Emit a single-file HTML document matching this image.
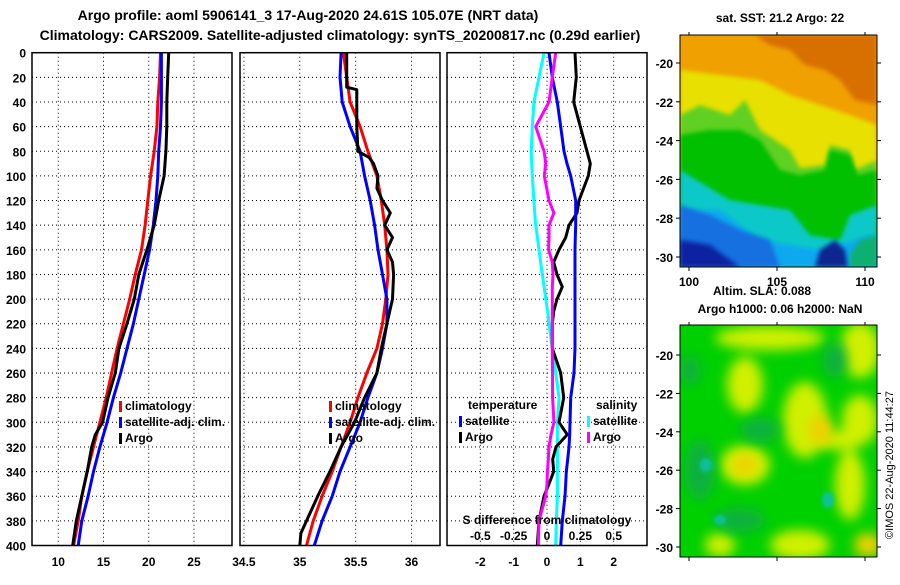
<!DOCTYPE html>
<html><head><meta charset="utf-8">
<style>
body{margin:0;background:#fff;width:900px;height:580px;overflow:hidden}
svg text{font-family:"Liberation Sans",sans-serif;font-weight:bold;fill:#000}
</style></head>
<body>
<svg id="c" width="900" height="580" xmlns="http://www.w3.org/2000/svg">
<defs>
<filter id="bl" x="-20%" y="-20%" width="140%" height="140%"><feGaussianBlur stdDeviation="6"/></filter>
<filter id="bl2" x="-20%" y="-20%" width="140%" height="140%"><feGaussianBlur stdDeviation="2"/></filter>
<clipPath id="m1"><rect x="680" y="35" width="197" height="232"/></clipPath>
<clipPath id="m2"><rect x="680" y="325" width="197" height="232"/></clipPath>
</defs>
<text x="308" y="20" font-size="14" text-anchor="middle">Argo profile: aoml 5906141_3 17-Aug-2020 24.61S 105.07E (NRT data)</text>
<text x="340" y="40" font-size="14" text-anchor="middle">Climatology: CARS2009. Satellite-adjusted climatology: synTS_20200817.nc (0.29d earlier)</text>
<g id="panels"></g>
<g id="maps">
<text x="780" y="22" font-size="12" text-anchor="middle">sat. SST: 21.2 Argo: 22</text>
<g clip-path="url(#m1)">
<rect x="680" y="35" width="197" height="232" fill="#f0a000"/>
<path d="M755 35 L877 35 L877 105 L855 100 L840 80 L825 70 L805 65 L790 50 L770 45 Z" fill="#d87000" filter="url(#bl2)"/>
<path d="M680 70 L720 75 L760 80 L790 95 L820 105 L850 115 L877 125 L877 267 L680 267 Z" fill="#e8e000" filter="url(#bl2)"/>
<path d="M680 115 L700 105 L730 115 L745 100 L760 130 L790 150 L800 168 L825 165 L830 145 L850 150 L855 170 L877 160 L877 267 L680 267 Z" fill="#60d020" filter="url(#bl2)"/>
<path d="M680 135 L710 130 L740 130 L760 140 L780 170 L800 175 L825 170 L830 150 L850 155 L858 175 L877 170 L877 267 L680 267 Z" fill="#00c000" filter="url(#bl2)"/>
<path d="M680 170 L705 185 L730 200 L760 205 L790 210 L810 235 L840 240 L850 215 L877 205 L877 267 L680 267 Z" fill="#10c8c8" filter="url(#bl2)"/>
<path d="M680 210 L720 210 L740 225 L760 240 L790 245 L820 250 L840 245 L870 235 L877 240 L877 267 L680 267 Z" fill="#10a8f0" filter="url(#bl2)"/>
<path d="M680 205 L710 215 L740 230 L770 240 L780 267 L680 267 Z" fill="#1870e0" filter="url(#bl2)"/>
<path d="M680 240 L710 245 L730 260 L740 267 L680 267 Z" fill="#0820a0" filter="url(#bl2)"/>
<path d="M815 267 L820 250 L835 240 L845 250 L848 267 Z" fill="#082890" filter="url(#bl2)"/>
<path d="M850 255 L860 240 L877 235 L877 267 L850 267 Z" fill="#10b070" filter="url(#bl2)"/>
</g>
<rect x="680" y="35" width="197" height="232" fill="none" stroke="#000"/>
<text x="762" y="295" font-size="12" text-anchor="middle">Altim. SLA: 0.088</text>
<text x="780" y="313" font-size="12" text-anchor="middle">Argo h1000: 0.06 h2000: NaN</text>
<g clip-path="url(#m2)">
<rect x="680" y="325" width="197" height="232" fill="#00d000"/>
<g filter="url(#bl)" fill="#d0f000">
<ellipse cx="770" cy="338" rx="55" ry="12"/>
<ellipse cx="860" cy="350" rx="20" ry="28"/>
<ellipse cx="745" cy="385" rx="18" ry="28"/>
<ellipse cx="805" cy="420" rx="22" ry="38"/>
<ellipse cx="745" cy="465" rx="25" ry="20"/>
<ellipse cx="860" cy="420" rx="18" ry="25"/>
<ellipse cx="850" cy="485" rx="15" ry="35"/>
<ellipse cx="800" cy="545" rx="30" ry="15"/>
<ellipse cx="720" cy="545" rx="15" ry="12"/>
<ellipse cx="840" cy="440" rx="25" ry="10"/>
</g>
<g filter="url(#bl)" fill="#f0d000">
<ellipse cx="745" cy="465" rx="12" ry="10"/>
<ellipse cx="820" cy="430" rx="12" ry="15"/>
<ellipse cx="868" cy="545" rx="14" ry="12"/>
</g>
<g filter="url(#bl)" fill="#10b040">
<ellipse cx="700" cy="470" rx="15" ry="30"/>
<ellipse cx="760" cy="430" rx="20" ry="12"/>
<ellipse cx="835" cy="360" rx="12" ry="18"/>
<ellipse cx="740" cy="520" rx="25" ry="12"/>
<ellipse cx="690" cy="370" rx="10" ry="15"/>
</g>
<g filter="url(#bl2)" fill="#10c0a0">
<ellipse cx="706" cy="465" rx="6" ry="7"/>
<ellipse cx="828" cy="500" rx="6" ry="8"/>
<ellipse cx="720" cy="520" rx="6" ry="5"/>
</g>
</g>
<rect x="680" y="325" width="197" height="232" fill="none" stroke="#000"/>
<text transform="translate(893,465) rotate(-90)" font-size="11" text-anchor="middle" style="font-weight:normal">©IMOS 22-Aug-2020 11:44:27</text>
</g>
</svg>
<script>
// ---- data ----
const depths = [0,20,40,60,80,100,120,140,160,180,200,220,240,260,280,300,320,340,360,380,400];
const tempClim = [21.3,21.2,21.0,20.9,20.6,20.2,19.9,19.6,19.2,18.5,17.9,17.2,16.5,15.9,15.3,14.6,13.9,13.2,12.6,12.2,11.7];
const tempSat  = [21.4,21.4,21.4,21.3,21.1,21.0,20.8,20.5,20.1,19.5,18.9,18.3,17.6,16.9,16.1,15.4,14.6,13.9,13.3,12.6,12.2];
const argoDepths = [0,20,40,60,80,100,110,120,140,160,180,200,220,240,260,280,300,310,320,340,360,380,400];
const tempArgo = [22.2,22.1,22.0,22.0,21.9,21.7,21.4,21.1,20.6,19.8,18.9,18.4,17.6,16.7,16.3,15.5,14.9,14.1,13.7,13.2,12.6,12.0,11.6];
const salClim = [35.39,35.42,35.45,35.54,35.61,35.69,35.73,35.76,35.78,35.79,35.77,35.74,35.69,35.60,35.52,35.45,35.37,35.29,35.20,35.12,35.06];
const salSat  = [35.37,35.36,35.38,35.45,35.54,35.58,35.63,35.67,35.70,35.74,35.78,35.78,35.74,35.69,35.61,35.54,35.45,35.36,35.29,35.20,35.13];
const salArgoDepths = [0,28,30,60,80,85,90,100,110,120,130,140,150,160,170,180,200,220,240,260,280,300,320,340,360,380,390,400];
const salArgo = [35.42,35.42,35.51,35.51,35.52,35.62,35.66,35.70,35.69,35.74,35.81,35.76,35.83,35.78,35.83,35.84,35.83,35.78,35.73,35.69,35.58,35.49,35.37,35.27,35.16,35.06,35.01,35.00];
const dDepths = [0,20,40,60,80,90,100,120,130,140,150,160,170,180,190,200,210,220,240,260,280,300,310,320,330,340,350,360,380,400];
const dTempArgo = [0.84,0.88,0.8,1.0,1.2,1.3,1.24,0.96,0.9,0.66,0.56,0.36,0.2,0.3,0.46,0.3,0.2,0.16,0.16,0.41,0.5,0.36,0.61,0.27,0.17,0.2,0.06,-0.09,-0.24,-0.29];
const dTempSat = [0.06,0.16,0.31,0.41,0.51,0.6,0.71,0.86,0.86,0.86,0.85,0.84,0.84,0.84,0.84,0.84,0.84,0.84,0.84,0.81,0.71,0.69,0.68,0.66,0.62,0.58,0.56,0.54,0.46,0.41];
const dSalSat = [-0.022,-0.06,-0.098,-0.11,-0.118,-0.115,-0.11,-0.098,-0.092,-0.085,-0.072,-0.06,-0.048,-0.035,-0.022,-0.01,0.005,0.015,0.04,0.065,0.09,0.078,0.078,0.078,0.078,0.078,0.078,0.078,0.07,0.065];
const dSalArgo = [0.065,0.04,0.015,-0.085,-0.022,-0.01,-0.02,0.015,0.052,0.015,0.015,0.012,0.04,0.045,0.04,0.04,0.04,0.04,0.04,0.041,0.042,0.052,0.03,0.015,0.01,0.003,0.0,-0.01,-0.06,-0.065];
const depthTicks = [0,20,40,60,80,100,120,140,160,180,200,220,240,260,280,300,320,340,360,380,400];
const tTicks = [10,15,20,25], sTicks=[34.5,35,35.5,36], dTicks=[-2,-1,0,1,2], sdTicks=[-0.5,-0.25,0,0.25,0.5];
const latTicks = [-20,-22,-24,-26,-28,-30], lonTicks=[100,105,110];

const NS='http://www.w3.org/2000/svg';
const root=document.getElementById('panels');
function el(tag,attrs,parent){const e=document.createElementNS(NS,tag);for(const k in attrs)e.setAttribute(k,attrs[k]);(parent||root).appendChild(e);return e;}
const Y0=52.7,YS=1.232;
const yS=d=>Y0+YS*d;
const P=[{x0:32,x1:232,v0:7.1,v1:29.2},{x0:240,x1:440,v0:34.465,v1:36.255},{x0:447,x1:647,v0:-3.0,v1:3.0}];
function xs(p,v){return p.x0+(v-p.v0)/(p.v1-p.v0)*(p.x1-p.x0);}
function grid(p,ticks,name){
  const g=el('g',{});
  
  
  depthTicks.forEach(d=>{el('line',{x1:p.x0,x2:p.x1,y1:yS(d),y2:yS(d),stroke:'#000','stroke-dasharray':'1,3'},g);});
  ticks.forEach(t=>{const x=xs(p,t);el('line',{x1:x,x2:x,y1:yS(0),y2:yS(400),stroke:'#000','stroke-dasharray':'1,3'},g);});
}
function frame(p,name){const r=el('rect',{x:p.x0,y:yS(0),width:p.x1-p.x0,height:yS(400)-yS(0),fill:'none',stroke:'#000','stroke-width':1.5});
  
  }
function line(p,ds,vs,col,name,scale){
  const pts=ds.map((d,i)=>xs(p,vs[i]*(scale||1)).toFixed(1)+','+yS(d).toFixed(1)).join(' ');
  const l=el('polyline',{points:pts,fill:'none',stroke:col,'stroke-width':3,'stroke-linejoin':'round'});
  
  
}
function label(x,y,s,name,anchor,parent){const t=el('text',{x:x,y:y,'font-size':12,'text-anchor':anchor||'middle'},parent);t.textContent=s;
  
  return t;}
function legend(x,y,entries,prefix){entries.forEach((e,i)=>{
  const yy=y+i*16;
  const m=el('rect',{x:x,y:yy-9,width:3,height:11,fill:e[1]});
  
  
  label(x+6,yy,e[0],prefix+'-legend-entry-'+i,'start');
});}

// panel 1
grid(P[0],tTicks,'temperature');
depthTicks.forEach(d=>label(26,yS(d)+5,String(d),'depth-tick-'+d,'end'));
tTicks.forEach(t=>label(xs(P[0],t),566,String(t),'temp-tick-'+t));
line(P[0],depths,tempClim,'#f00','temp-climatology-line');
line(P[0],depths,tempSat,'#00f','temp-satellite-line');
line(P[0],argoDepths,tempArgo,'#000','temp-argo-line');
frame(P[0],'temperature-panel');
legend(119,410,[['climatology','#f00'],['satellite-adj. clim.','#00f'],['Argo','#000']],'temp');

// panel 2
grid(P[1],sTicks,'salinity');
sTicks.forEach(t=>label(xs(P[1],t),566,String(t),'sal-tick-'+t));
line(P[1],depths,salClim,'#f00','sal-climatology-line');
line(P[1],depths,salSat,'#00f','sal-satellite-line');
line(P[1],salArgoDepths,salArgo,'#000','sal-argo-line');
frame(P[1],'salinity-panel');
legend(329,410,[['climatology','#f00'],['satellite-adj. clim.','#00f'],['Argo','#000']],'sal');

// panel 3
grid(P[2],dTicks,'difference');
dTicks.forEach(t=>label(xs(P[2],t),566,String(t),'diff-tick-'+t));
line(P[2],dDepths,dSalSat,'#0ff','sal-diff-satellite-line',4);
line(P[2],dDepths,dTempArgo,'#000','temp-diff-argo-line');
line(P[2],dDepths,dTempSat,'#00f','temp-diff-satellite-line');
line(P[2],dDepths,dSalArgo,'#f0f','sal-diff-argo-line',4);
frame(P[2],'difference-panel');
label(468,409,'temperature','diff-legend-temp-header','start');
legend(459,425,[['satellite','#00f'],['Argo','#000']],'diff-temp');
label(596,409,'salinity','diff-legend-sal-header','start');
legend(587,425,[['satellite','#0ff'],['Argo','#f0f']],'diff-sal');
label(547,524,'S difference from climatology','sal-diff-axis-title');
sdTicks.forEach(t=>label(xs(P[2],t*4),540,String(t),'sal-diff-tick-'+t));

// map axes
const mp=document.getElementById('maps');
function mapAxes(top,bot,l20,l30,showLon,name){
  const ys=lat=>l20+(lat+20)/(-10)*(l30-l20);
  latTicks.forEach(l=>{const y=ys(l);el('line',{x1:877,x2:881,y1:y,y2:y,stroke:'#000'},mp);el('line',{x1:680,x2:676,y1:y,y2:y,stroke:'#000'},mp);
    label(673,y+5,String(l),name+'-lat-tick','end',mp);});
  lonTicks.forEach(o=>{const x=689+(o-100)*17.6;el('line',{x1:x,x2:x,y1:bot,y2:bot+4,stroke:'#000'},mp);el('line',{x1:x,x2:x,y1:top,y2:top-3,stroke:'#000'},mp);
    if(showLon){label(x,bot+19,String(o),name+'-lon-tick','middle',mp);}});
}
mapAxes(35,267,63,257,true,'sst');
mapAxes(325,557,355,547,false,'sla');
</script>
</body></html>
